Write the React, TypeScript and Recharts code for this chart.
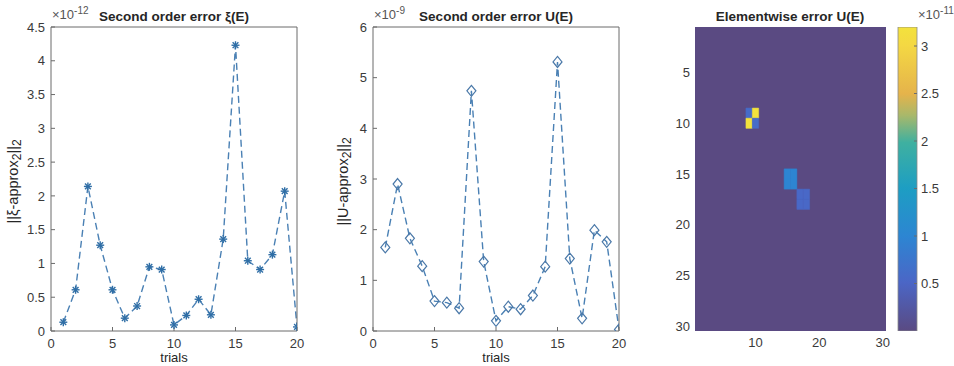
import React from 'react';
import {
  LineChart, Line, XAxis, YAxis, ScatterChart, Scatter, ReferenceArea, BarChart, Bar,
} from 'recharts';

// trials 1..20
const trials = [1, 2, 3, 4, 5, 6, 7, 8, 9, 10, 11, 12, 13, 14, 15, 16, 17, 18, 19, 20];
// ||xi - approx2||2, in units of 1e-12
const xiError = [0.13, 0.61, 2.14, 1.27, 0.61, 0.19, 0.37, 0.95, 0.91, 0.09, 0.23, 0.47, 0.24, 1.36, 4.23, 1.04, 0.91, 1.13, 2.07, 0.06];
// ||U - approx2||2, in units of 1e-9
const uError = [1.65, 2.9, 1.83, 1.28, 0.59, 0.56, 0.45, 4.74, 1.37, 0.2, 0.48, 0.43, 0.7, 1.27, 5.31, 1.43, 0.25, 1.99, 1.76, 0.03];

const xTicks = [0, 5, 10, 15, 20];
const xiTicks = [0, 0.5, 1, 1.5, 2, 2.5, 3, 3.5, 4, 4.5];
const uTicks = [0, 1, 2, 3, 4, 5, 6];

// elementwise error U(E), 30x30, in units of 1e-11 (cells not listed are ~0)
const gridSize = 30;
const cellRows = [9, 9, 10, 10, 15, 15, 16, 16, 17, 17, 18, 18];
const cellCols = [9, 10, 9, 10, 15, 16, 15, 16, 17, 18, 17, 18];
const cellValues = [0.6, 3.2, 3.2, 0.6, 1.0, 1.0, 1.0, 1.0, 0.55, 0.55, 0.55, 0.55];
const backgroundValue = 0;
const colorMax = 3.2;
const heatXTicks = [10, 20, 30];
const heatYTicks = [5, 10, 15, 20, 25, 30];
const barTicks = [0.5, 1, 1.5, 2, 2.5, 3];

const FONT = "'Liberation Sans', Arial, Helvetica, sans-serif";
const LINE = '#4a80b4';
const AXIS = '#6b6b6b';
const TICK = '#3a3a3a';

const cmap: [number, string][] = [
  [0, '#5a4a82'], [0.16, '#4b66c6'], [0.31, '#2d85d2'], [0.47, '#1d9ec3'],
  [0.62, '#3fb0a0'], [0.71, '#a9b86a'], [0.78, '#e5b34b'], [0.94, '#f4d843'], [1, '#f3e23c'],
];

const hex = (c: string) => [1, 3, 5].map((i) => parseInt(c.slice(i, i + 2), 16));
const colorOf = (v: number) => {
  const t = Math.max(0, Math.min(1, v / colorMax));
  for (let i = 1; i < cmap.length; i++) {
    if (t <= cmap[i][0]) {
      const [t0, c0] = cmap[i - 1];
      const [t1, c1] = cmap[i];
      const f = (t - t0) / (t1 - t0);
      const a = hex(c0);
      const b = hex(c1);
      return `rgb(${a.map((x, k) => Math.round(x + (b[k] - x) * f)).join(',')})`;
    }
  }
  return cmap[cmap.length - 1][1];
};

const xiData = trials.map((t, i) => ({ trial: t, value: xiError[i] }));
const uData = trials.map((t, i) => ({ trial: t, value: uError[i] }));
const cells = cellRows.map((r, i) => ({ row: r, col: cellCols[i], value: cellValues[i] }));

const tickStyle = { fill: TICK, fontSize: 13, fontFamily: FONT };

const Asterisk = (p: any) => {
  const { cx, cy } = p;
  if (cx == null || cy == null) return <g key={p.index} />;
  const r = 4;
  const d = r * 0.72;
  return (
    <g key={p.index} stroke="#2f6ea6" strokeWidth={1.4}>
      <line x1={cx - r} y1={cy} x2={cx + r} y2={cy} />
      <line x1={cx} y1={cy - r} x2={cx} y2={cy + r} />
      <line x1={cx - d} y1={cy - d} x2={cx + d} y2={cy + d} />
      <line x1={cx - d} y1={cy + d} x2={cx + d} y2={cy - d} />
    </g>
  );
};

const Diamond = (p: any) => {
  const { cx, cy } = p;
  if (cx == null || cy == null) return <g key={p.index} />;
  return (
    <path
      key={p.index}
      d={`M${cx},${cy - 5.5} L${cx + 4.5},${cy} L${cx},${cy + 5.5} L${cx - 4.5},${cy} Z`}
      fill="none"
      stroke="#4a78a8"
      strokeWidth={1.2}
    />
  );
};

const ErrorPlot = ({ data, ticks, max, dot }: any) => (
  <LineChart width={320} height={366} data={data} margin={{ top: 26, right: 22, bottom: 5, left: 11 }}>
    <XAxis
      dataKey="trial" type="number" domain={[0, 20]} ticks={xTicks} allowDataOverflow
      height={30} tickSize={-4} tickMargin={12} stroke={AXIS} tick={tickStyle}
    />
    <XAxis
      xAxisId="top" orientation="top" dataKey="trial" type="number" domain={[0, 20]} ticks={xTicks}
      height={1} tickSize={-4} tick={false} stroke={AXIS}
    />
    <YAxis
      type="number" domain={[0, max]} ticks={ticks} allowDataOverflow
      width={40} tickSize={-4} tickMargin={10} stroke={AXIS} tick={tickStyle}
    />
    <YAxis
      yAxisId="right" orientation="right" type="number" domain={[0, max]} ticks={ticks}
      width={1} tickSize={-4} tick={false} stroke={AXIS}
    />
    <Line
      dataKey="value" stroke={LINE} strokeWidth={1.4} strokeDasharray="7 4"
      dot={dot} activeDot={false} isAnimationActive={false} type="linear"
    />
  </LineChart>
);

const Text = ({ left, top, width, children, style }: any) => (
  <div style={{ position: 'absolute', left, top, width, textAlign: 'center', fontFamily: FONT, fontSize: 13, color: '#262626', lineHeight: '16px', whiteSpace: 'nowrap', ...style }}>
    {children}
  </div>
);

const Exponent = ({ left, top, exp }: any) => (
  <div style={{ position: 'absolute', left, top, fontFamily: FONT, fontSize: 13, color: '#555', whiteSpace: 'nowrap' }}>
    ×10<sup style={{ fontSize: 10 }}>{exp}</sup>
  </div>
);

const YLabel = ({ cx, cy, children }: any) => (
  <div style={{ position: 'absolute', left: cx - 100, top: cy - 9, width: 200, textAlign: 'center', fontFamily: FONT, fontSize: 14.5, color: '#262626', lineHeight: '18px', transform: 'rotate(-90deg)' }}>
    {children}
  </div>
);

export default function App() {
  return (
    <div style={{ position: 'absolute', left: 0, top: 0, width: 954, height: 366, background: '#fff', overflow: 'hidden' }}>
      <div style={{ position: 'absolute', left: 0, top: 0 }}>
        <ErrorPlot data={xiData} ticks={xiTicks} max={4.5} dot={(p: any) => <Asterisk {...p} key={p.index} />} />
      </div>
      <div style={{ position: 'absolute', left: 322, top: 0 }}>
        <ErrorPlot data={uData} ticks={uTicks} max={6} dot={(p: any) => <Diamond {...p} key={p.index} />} />
      </div>

      <div style={{ position: 'absolute', left: 630, top: 0 }}>
        <ScatterChart width={262} height={366} margin={{ top: 27, right: 6, bottom: 5, left: 25 }}>
          <XAxis
            dataKey="col" type="number" domain={[0.5, gridSize + 0.5]} ticks={heatXTicks} allowDataOverflow
            height={30} tickSize={0} tickMargin={7} axisLine={false} tickLine={false} tick={tickStyle}
          />
          <YAxis
            dataKey="row" type="number" reversed domain={[0.5, gridSize + 0.5]} ticks={heatYTicks} allowDataOverflow
            width={40} tickSize={0} tickMargin={5} axisLine={false} tickLine={false} tick={tickStyle}
          />
          <ReferenceArea
            x1={0.5} x2={gridSize + 0.5} y1={0.5} y2={gridSize + 0.5}
            fill={colorOf(backgroundValue)} fillOpacity={1} stroke="none"
          />
          {cells.map((c, i) => (
            <ReferenceArea
              key={i} x1={c.col - 0.5} x2={c.col + 0.5} y1={c.row - 0.5} y2={c.row + 0.5}
              fill={colorOf(c.value)} fillOpacity={1} stroke={colorOf(c.value)} strokeWidth={0.5}
            />
          ))}
          <Scatter data={cells} shape={() => <g />} isAnimationActive={false} />
        </ScatterChart>
      </div>

      <div style={{ position: 'absolute', left: 880, top: 0 }}>
        <BarChart width={74} height={366} data={[{ name: 'cb', top: colorMax }]} barCategoryGap={0} margin={{ top: 27, right: 7, bottom: 35, left: 18 }}>
          <defs>
            <linearGradient id="cbGrad" x1="0" y1="1" x2="0" y2="0">
              {cmap.map(([t, c]) => <stop key={t} offset={t} stopColor={c} />)}
            </linearGradient>
          </defs>
          <XAxis dataKey="name" hide />
          <YAxis
            orientation="right" type="number" domain={[0, colorMax]} ticks={barTicks} allowDataOverflow
            width={30} tickSize={-3} tickMargin={7} axisLine={false} stroke={AXIS} tick={{ ...tickStyle, textAnchor: 'start' }}
          />
          <Bar dataKey="top" fill="url(#cbGrad)" stroke="#8a8a8a" strokeWidth={0.8} isAnimationActive={false} />
        </BarChart>
      </div>

      <Text left={74} top={9} width={200} style={{ fontWeight: 'bold', fontSize: 13.5 }}>Second order error ξ(E)</Text>
      <Text left={396} top={9} width={200} style={{ fontWeight: 'bold', fontSize: 13.5 }}>Second order error U(E)</Text>
      <Text left={690} top={9} width={200} style={{ fontWeight: 'bold', fontSize: 13.5 }}>Elementwise error U(E)</Text>

      <Exponent left={52} top={5} exp="-12" />
      <Exponent left={374} top={5} exp="-9" />
      <Exponent left={918} top={5} exp="-11" />

      <Text left={124} top={350} width={100}>trials</Text>
      <Text left={446} top={350} width={100}>trials</Text>

      <YLabel cx={15} cy={179}>||ξ-approx<sub>2</sub>||<sub>2</sub></YLabel>
      <YLabel cx={345} cy={179}>||U-approx<sub>2</sub>||<sub>2</sub></YLabel>
    </div>
  );
}
